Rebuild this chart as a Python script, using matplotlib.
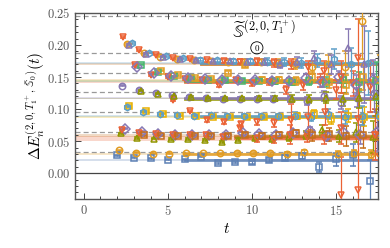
import numpy as np
import matplotlib
matplotlib.use("Agg")
import matplotlib.pyplot as plt
from matplotlib.ticker import MultipleLocator, FuncFormatter

plt.rcParams['mathtext.fontset'] = 'cm'
plt.rcParams['font.family'] = 'serif'

# time slices
t_vals = np.arange(2, 18)
nan = np.nan

# effective energy shifts per level (t = 2..17)
E_n0 = [0.0280, 0.0245, 0.0230, 0.0214, 0.0217, 0.0260, 0.0164, 0.0175, 0.0170, 0.0200, 0.0245, 0.0268, 0.0103, 0.0217, 0.0280, -0.0125]
dE_n0 = [0.0008, 0.0008, 0.0009, 0.0010, 0.0012, 0.0014, 0.0016, 0.0020, 0.0025, 0.0030, 0.0040, 0.0050, 0.0080, 0.0100, 0.0170, 0.0330]
E_n1 = [0.0357, 0.0320, 0.0306, 0.0306, 0.0308, 0.0310, 0.0310, 0.0310, 0.0310, 0.0310, 0.0300, 0.0325, nan, 0.0300, 0.0310, 0.0300]
dE_n1 = [0.0008, 0.0008, 0.0008, 0.0009, 0.0010, 0.0010, 0.0012, 0.0014, 0.0016, 0.0020, 0.0025, 0.0030, 0.0040, 0.0045, 0.0050, 0.0060]
E_n2 = [0.0620, 0.0550, 0.0540, 0.0530, 0.0530, 0.0525, 0.0490, 0.0520, 0.0545, 0.0540, 0.0560, 0.0600, 0.0670, 0.0580, 0.0640, 0.0560]
dE_n2 = [0.0010, 0.0010, 0.0010, 0.0012, 0.0014, 0.0016, 0.0020, 0.0025, 0.0030, 0.0040, 0.0050, 0.0060, 0.0080, 0.0100, 0.0150, 0.0250]
E_n3 = [0.0696, 0.0645, 0.0614, 0.0600, 0.0600, 0.0595, 0.0590, 0.0620, 0.0610, 0.0600, 0.0620, 0.0660, 0.0580, 0.0640, 0.0600, 0.0650]
dE_n3 = [0.0010, 0.0010, 0.0010, 0.0012, 0.0014, 0.0016, 0.0020, 0.0025, 0.0030, 0.0040, 0.0050, 0.0060, 0.0080, 0.0100, 0.0150, 0.0300]
E_n4 = [0.0680, 0.0630, 0.0610, 0.0600, 0.0590, 0.0600, 0.0570, 0.0700, 0.0540, 0.0526, 0.0600, 0.0570, 0.0550, -0.0340, -0.0260, 0.0600]
dE_n4 = [0.0010, 0.0010, 0.0012, 0.0014, 0.0016, 0.0020, 0.0030, 0.0040, 0.0060, 0.0060, 0.0150, 0.0080, 0.0100, 0.0600, 0.0800, 0.0300]
E_n5 = [nan, 0.0590, 0.0585, 0.0580, 0.0580, 0.0585, 0.0580, 0.0590, 0.0580, 0.0600, 0.0620, 0.0590, 0.0610, 0.0580, 0.0600, 0.0570]
dE_n5 = [nan, 0.0010, 0.0012, 0.0014, 0.0016, 0.0020, 0.0025, 0.0030, 0.0040, 0.0050, 0.0060, 0.0080, 0.0100, 0.0150, 0.0200, 0.0300]
E_n6 = [0.1050, 0.0970, 0.0930, 0.0900, 0.0895, 0.0880, 0.0880, 0.0875, 0.0870, 0.0880, 0.0890, 0.0920, 0.0840, 0.0900, 0.0880, 0.0870]
dE_n6 = [0.0010, 0.0010, 0.0010, 0.0012, 0.0014, 0.0016, 0.0020, 0.0025, 0.0030, 0.0040, 0.0050, 0.0060, 0.0080, 0.0100, 0.0150, 0.0300]
E_n7 = [0.1040, 0.0960, 0.0920, 0.0905, 0.0900, 0.0905, 0.0900, 0.0895, 0.0900, 0.0890, 0.0900, 0.0880, 0.0920, 0.0870, 0.0900, 0.0890]
dE_n7 = [0.0010, 0.0010, 0.0010, 0.0012, 0.0014, 0.0016, 0.0020, 0.0025, 0.0030, 0.0040, 0.0050, 0.0060, 0.0080, 0.0100, 0.0150, 0.0300]
E_n8 = [nan, nan, nan, 0.1135, 0.0970, 0.0830, 0.0800, 0.0760, 0.0800, 0.0780, 0.0830, 0.0880, 0.0950, 0.0700, 0.0850, 0.0600]
dE_n8 = [nan, nan, nan, 0.0015, 0.0020, 0.0025, 0.0030, 0.0040, 0.0050, 0.0060, 0.0250, 0.0300, 0.0200, 0.0250, 0.0300, 0.0400]
E_n9 = [0.1367, 0.1300, 0.1250, 0.1215, 0.1190, 0.1175, 0.1165, 0.1165, 0.1165, 0.1165, 0.1160, 0.1130, 0.1200, 0.1100, 0.1180, 0.1250]
dE_n9 = [0.0010, 0.0010, 0.0010, 0.0012, 0.0014, 0.0016, 0.0020, 0.0025, 0.0030, 0.0040, 0.0050, 0.0060, 0.0080, 0.0100, 0.0150, 0.0300]
E_n10 = [nan, 0.1290, 0.1240, 0.1200, 0.1185, 0.1175, 0.1170, 0.1170, 0.1170, 0.1168, 0.1165, 0.1160, 0.1180, 0.1150, 0.1170, 0.1200]
dE_n10 = [nan, 0.0010, 0.0010, 0.0012, 0.0014, 0.0016, 0.0020, 0.0025, 0.0030, 0.0040, 0.0050, 0.0060, 0.0080, 0.0100, 0.0150, 0.0300]
E_n11 = [nan, 0.1690, 0.1580, 0.1510, 0.1480, 0.1460, 0.1450, 0.1440, 0.1440, 0.1435, 0.1430, 0.1440, 0.1420, 0.1450, 0.1430, 0.1440]
dE_n11 = [nan, 0.0010, 0.0010, 0.0012, 0.0014, 0.0016, 0.0020, 0.0025, 0.0030, 0.0040, 0.0050, 0.0060, 0.0080, 0.0100, 0.0150, 0.0300]
E_n12 = [nan, 0.1690, 0.1530, 0.1500, 0.1470, 0.1460, 0.1370, 0.1450, 0.1400, 0.1420, 0.1300, 0.1380, 0.1450, 0.1300, 0.1400, 0.1350]
dE_n12 = [nan, 0.0012, 0.0012, 0.0014, 0.0016, 0.0020, 0.0025, 0.0030, 0.0040, 0.0050, 0.0060, 0.0080, 0.0100, 0.0150, 0.0200, 0.0400]
E_n13 = [nan, nan, 0.1600, 0.1530, 0.1490, 0.1470, 0.1570, 0.1680, 0.1460, 0.1450, 0.1440, 0.1500, 0.1430, 0.1380, 0.1500, 0.1450]
dE_n13 = [nan, nan, 0.0012, 0.0014, 0.0016, 0.0020, 0.0025, 0.0030, 0.0040, 0.0050, 0.0060, 0.0080, 0.0100, 0.0150, 0.0200, 0.0400]
E_n14 = [nan, 0.1650, 0.1560, 0.1510, 0.1480, 0.1470, 0.1460, 0.1450, 0.1450, 0.1445, 0.1440, 0.1480, 0.1420, 0.1500, 0.1380, 0.1460]
dE_n14 = [nan, 0.0010, 0.0010, 0.0012, 0.0014, 0.0016, 0.0020, 0.0025, 0.0030, 0.0040, 0.0050, 0.0060, 0.0080, 0.0100, 0.0150, 0.0300]
E_n15 = [nan, 0.2015, 0.1870, 0.1820, 0.1780, 0.1760, 0.1750, 0.1740, 0.1740, 0.1730, 0.1720, 0.1700, 0.1650, 0.1700, 0.1650, 0.2380]
dE_n15 = [nan, 0.0012, 0.0012, 0.0014, 0.0016, 0.0020, 0.0025, 0.0030, 0.0040, 0.0050, 0.0060, 0.0080, 0.0100, 0.0150, 0.0250, 0.0600]
E_n16 = [nan, 0.2030, 0.1880, 0.1830, 0.1790, 0.1770, 0.1760, 0.1750, 0.1745, 0.1740, 0.1730, 0.1720, 0.1760, 0.1780, 0.1700, 0.1720]
dE_n16 = [nan, 0.0012, 0.0012, 0.0014, 0.0016, 0.0020, 0.0025, 0.0030, 0.0040, 0.0050, 0.0060, 0.0080, 0.0100, 0.0150, 0.0250, 0.0500]
E_n17 = [nan, 0.2128, 0.1920, 0.1850, 0.1800, 0.1780, 0.1760, 0.1750, 0.1740, 0.1740, 0.1720, 0.1700, 0.1650, 0.1600, 0.1500, 0.1800]
dE_n17 = [nan, 0.0012, 0.0012, 0.0014, 0.0016, 0.0020, 0.0025, 0.0030, 0.0040, 0.0050, 0.0060, 0.0080, 0.0100, 0.0150, 0.0250, 0.0600]
E_n18 = [nan, 0.2000, 0.1860, 0.1820, 0.1780, 0.1765, 0.1755, 0.1745, 0.1740, 0.1735, 0.1700, 0.1740, 0.1800, 0.1700, 0.1950, 0.1700]
dE_n18 = [nan, 0.0012, 0.0012, 0.0014, 0.0016, 0.0020, 0.0025, 0.0030, 0.0040, 0.0050, 0.0060, 0.0080, 0.0100, 0.0150, 0.0300, 0.0600]

# fitted levels (centre, half width) and non-interacting levels
fit_E = [0.0205, 0.0300, 0.0545, 0.0585, 0.0880, 0.0895, 0.1165, 0.1170, 0.1420, 0.1435, 0.1450, 0.1705, 0.1720]
fit_dE = [0.0015, 0.0012, 0.0035, 0.0025, 0.0015, 0.0012, 0.0015, 0.0012, 0.0020, 0.0015, 0.0015, 0.0015, 0.0015]
fit_tmin = [6, 6, 9, 9, 7, 7, 6, 6, 6, 6, 6, 7, 7]
free_E = [0.0325, 0.0645, 0.0955, 0.1265, 0.1570, 0.1875, 0.2450]

# Mathematica-ish palette
blue, orange, green, red, purple = '#5E81B5', '#E19C24', '#47B66D', '#EB6235', '#8778B3'
brown, lblue, yellow, olive = '#C56E1A', '#5D9EC7', '#E8B000', '#929600'
fit_colors = [blue, orange, red, brown, yellow, lblue, olive, purple, red, green, orange, brown, lblue]

# (values, errors, marker, colour, t-offset)
series = [
    (E_n0, dE_n0, 's', blue, 0.0),
    (E_n1, dE_n1, 'o', orange, 0.1),
    (E_n2, dE_n2, '^', olive, 0.2),
    (E_n3, dE_n3, 'D', purple, 0.45),
    (E_n4, dE_n4, 'v', red, 0.3),
    (E_n5, dE_n5, 's', brown, 0.6),
    (E_n6, dE_n6, 's', yellow, 0.7),
    (E_n7, dE_n7, 'h', lblue, 0.55),
    (E_n8, dE_n8, 'v', red, 0.33),
    (E_n9, dE_n9, 'o', purple, 0.28),
    (E_n10, dE_n10, '^', olive, 0.4),
    (E_n11, dE_n11, 's', green, 0.4),
    (E_n12, dE_n12, 'v', red, 0.03),
    (E_n13, dE_n13, 's', orange, 0.6),
    (E_n14, dE_n14, 'D', purple, 0.2),
    (E_n15, dE_n15, 'o', orange, -0.44),
    (E_n16, dE_n16, 'h', lblue, -0.1),
    (E_n17, dE_n17, 'v', red, -0.68),
    (E_n18, dE_n18, '^', purple, -0.3),
]

fig = plt.figure(figsize=(3.9, 2.48), dpi=100)
ax = fig.add_axes([0.193, 0.198, 0.776, 0.750])

for y in free_E:
    ax.axhline(y, color='#999999', ls=(0, (4, 2.5)), lw=0.9, zorder=1)
ax.axhline(0.0, color='#444444', lw=0.9, zorder=1)

for y, dy, c, tmin in zip(fit_E, fit_dE, fit_colors, fit_tmin):
    ax.axhspan(y - dy, y + dy, color=c, alpha=0.25, lw=0, zorder=1)
    ax.plot([tmin, 17.5], [y, y], color=c, lw=2.0, alpha=0.85, zorder=2)

for vals, errs, mk, c, off in series:
    ax.errorbar(t_vals + off, vals, yerr=errs, fmt=mk, color=c, mfc='none', mec=c,
                ms=4.6, mew=1.1, elinewidth=0.9, capsize=2.2, capthick=0.9, zorder=3)

ax.set_xlim(-0.5, 17.5)
ax.set_ylim(-0.04, 0.25)
ax.xaxis.set_major_locator(MultipleLocator(5))
ax.xaxis.set_minor_locator(MultipleLocator(1))
ax.yaxis.set_major_locator(MultipleLocator(0.05))
ax.yaxis.set_minor_locator(MultipleLocator(0.01))
ax.xaxis.set_major_formatter(FuncFormatter(lambda v, p: f'${v:.0f}$'))
ax.yaxis.set_major_formatter(FuncFormatter(lambda v, p: f'${v:.2f}$'))
ax.tick_params(which='both', direction='in', top=True, right=True, colors='#444444',
               labelcolor='#555555', labelsize=9, width=0.7)
ax.tick_params(which='major', length=4)
ax.tick_params(which='minor', length=2)
for s in ax.spines.values():
    s.set_color('#555555')
    s.set_linewidth(1.0)

ax.set_xlabel(r'$t$', fontsize=11, labelpad=3)
ax.set_ylabel(r'$\Delta E_n^{(2,0,T_1^+,\,\bar{\mathbb{S}}_0)}(t)$', fontsize=11, labelpad=0)

ax.text(10.75, 0.2215, r'$\widetilde{\mathbb{S}}^{(2,0,T_1^+)}$', fontsize=12.5, ha='center', va='center', zorder=5)
ax.text(10.3, 0.1955, r'$0$', fontsize=6.5, ha='center', va='center', zorder=5,
        bbox=dict(boxstyle='circle,pad=0.12', fc='none', ec='black', lw=0.6))

fig.savefig('out.png', dpi=100)
